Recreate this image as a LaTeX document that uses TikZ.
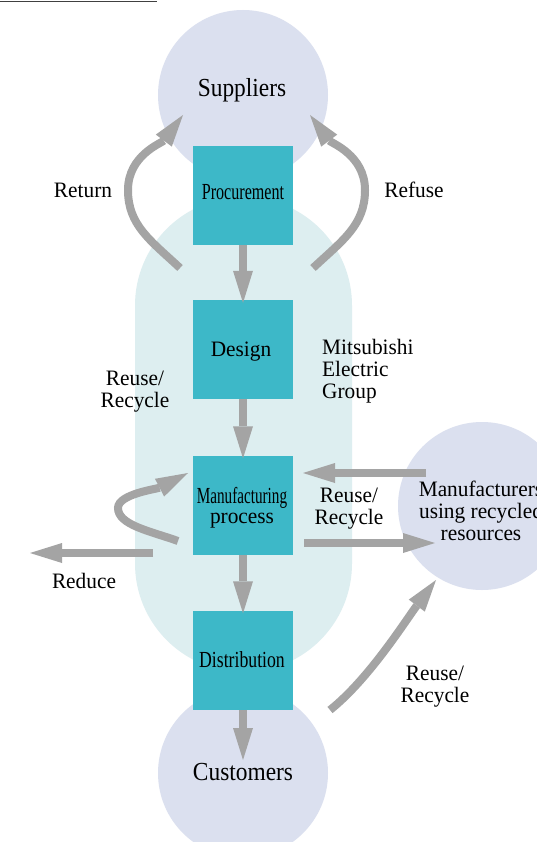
\documentclass[tikz,border=0pt]{standalone}
\usepackage{fontspec}
\setmainfont{Liberation Serif}[FakeStretch=0.97]
\newfontfamily\titlefont{Liberation Serif}[FakeStretch=0.9]
\newfontfamily\plainserif{Liberation Serif}
\usetikzlibrary{arrows.meta}
\definecolor{lav}{HTML}{DBE0EF}
\definecolor{paleteal}{HTML}{DDEEF0}
\definecolor{boxteal}{HTML}{3DB8C8}
\definecolor{agray}{HTML}{A4A4A4}
\begin{document}
\begin{tikzpicture}[x=1pt,y=-1pt,
  flow/.style={draw=agray,line width=8pt,-{Triangle[length=32pt,width=20pt,line width=0pt]}},
  stagebox/.style={fill=boxteal,minimum width=100pt,minimum height=99pt,inner sep=0pt},
  boxtext/.style={font=\plainserif\fontsize{23}{23}\selectfont,inner sep=0pt,anchor=base},
  ring/.style={circle,fill=lav,inner sep=0pt},
  lbl/.style={font=\fontsize{22}{22}\selectfont,align=center,inner sep=0pt,anchor=base},
  title/.style={font=\titlefont\fontsize{26}{26}\selectfont,inner sep=0pt,anchor=base}]
\useasboundingbox (0,0) rectangle (537,842);
\fill[white] (0,0) rectangle (537,842);
\draw[line width=1pt,black!75] (0,2) -- (157,2);
% group region
\fill[paleteal,rounded corners=108.5pt] (135,197) rectangle (352,672);
% circles
\node[ring,minimum size=170pt] (sup) at (243,95) {};
\node[ring,minimum size=170pt] (cus) at (243,773) {};
\node[ring,minimum size=168pt] (man) at (482,506) {};
% boxes
\node[stagebox] (proc) at (243,195.5) {};
\node[stagebox] (des) at (243,349.5) {};
\node[stagebox] (mfg) at (243,505) {};
\node[stagebox] (dist) at (243,660) {};
% texts
\node[title] (tsup) at (242,97) {Suppliers};
\node[title] (tcus) at (243,780) {Customers};
\node[boxtext] (tproc) at (243,200) {\scalebox{0.70}[1]{Procurement}};
\node[lbl] (tdes) at (241,356) {Design};
\node[lbl,font=\fontsize{22}{20}\selectfont] (tmfg) at (242,523)
  {{\plainserif\fontsize{23}{20}\selectfont\scalebox{0.66}[1]{Manufacturing}}\\process};
\node[boxtext] (tdist) at (242,667) {\scalebox{0.77}[1]{Distribution}};
\node[lbl] (lret) at (83,198) {Return};
\node[lbl] (lref) at (414,198) {Refuse};
\node[lbl,align=left,anchor=base west] (lgrp) at (322,398) {Mitsubishi\\Electric\\Group};
\node[lbl] (lrr1) at (135,407) {Reuse/\\Recycle};
\node[lbl] (lrr2) at (349,524) {Reuse/\\Recycle};
\node[lbl] (lred) at (84,588) {Reduce};
\node[lbl] (lrr3) at (435,702) {Reuse/\\Recycle};
\node[lbl] (lman) at (481,540) {Manufacturers\\using recycled\\resources};
% connectors
\draw[flow] (proc.south) -- ([yshift=-3pt]des.north);
\draw[flow] (des.south) -- ([yshift=-3pt]mfg.north);
\draw[flow] (mfg.south) -- ([yshift=-3pt]dist.north);
\draw[flow] (dist.south) -- (243,760);
\coordinate (r0) at (180,268); \coordinate (r1) at (183,115);
\coordinate (f0) at (313,268); \coordinate (f1) at (310,115);
\draw[flow] (r0) .. controls (150,240) and (128,225) .. (128,190)
               .. controls (128,155) and (162,143) .. (r1);
\draw[flow] (f0) .. controls (343,240) and (365,225) .. (365,190)
               .. controls (365,155) and (331,143) .. (f1);
\coordinate (m0) at (178,541); \coordinate (m1) at (188,473);
\draw[flow] (m0) .. controls (150,531) and (118,525) .. (118,508)
               .. controls (118,494) and (157,489) .. (m1);
\coordinate (d0) at (153,553); \coordinate (d1) at (30,553);
\draw[flow] (d0) -- (d1);
\coordinate (a0) at (426,473); \coordinate (a1) at (303,473);
\draw[flow] (a0) -- (a1);
\coordinate (b0) at (304,543); \coordinate (b1) at (435,543);
\draw[flow] (b0) -- (b1);
\coordinate (c0) at (330,710); \coordinate (c1) at (436,580);
\draw[flow] (c0) .. controls (369,679) and (406,620) .. (c1);
\end{tikzpicture}
\end{document}
